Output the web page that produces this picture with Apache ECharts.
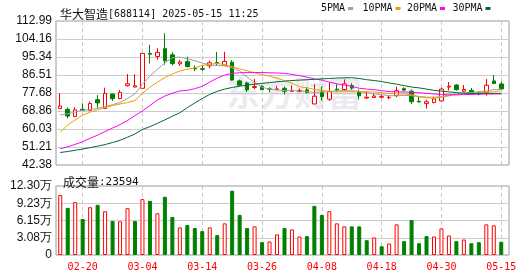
<!DOCTYPE html>
<html><head><meta charset="utf-8">
<script src="https://cdn.jsdelivr.net/npm/echarts@6/dist/echarts.min.js"></script>
<style>html,body{margin:0;padding:0;background:#fff}#c{width:530px;height:276px}</style>
</head><body><div id="c"></div>
<script>
const categories = ['02-17','02-18','02-19','02-20','02-21','02-24','02-25','02-26','02-27','02-28',
'03-03','03-04','03-05','03-06','03-07','03-10','03-11','03-12','03-13','03-14','03-17','03-18','03-19','03-20','03-21','03-24','03-25','03-26','03-27','03-28','03-31',
'04-01','04-02','04-03','04-07','04-08','04-09','04-10','04-11','04-14','04-15','04-16','04-17','04-18','04-21','04-22','04-23','04-24','04-25','04-28','04-29','04-30',
'05-06','05-07','05-08','05-09','05-12','05-13','05-14','05-15'];
const xTickLabels = ['02-20','03-04','03-14','03-26','04-08','04-18','04-30','05-15'];
const priceTicks = ['42.38','51.21','60.03','68.86','77.68','86.51','95.34','104.16','112.99'];
const volTicks = ['0','3.08万','6.15万','9.23万','12.30万'];

const openP  = [70.1,69.7,66.2,69.7,69.2,74.4,70.1,77.2,75.0,81.3,80.6,80.0,97.1,95.6,99.4,96.4,92.0,93.1,89.8,89.6,91.0,92.6,91.3,92.8,83.6,82.6,80.4,80.9,79.7,79.3,80.0,78.5,78.4,79.2,72.3,78.2,74.6,79.5,79.4,81.3,78.4,75.2,75.5,75.6,75.4,76.4,79.8,78.6,73.6,72.5,73.0,73.8,80.6,81.6,78.6,79.0,77.6,78.1,83.6,82.1];
const closeP = [71.3,66.4,69.4,69.2,72.5,72.8,77.5,74.9,78.0,82.2,81.2,97.1,96.7,97.6,93.5,92.1,92.9,90.6,89.5,89.3,92.5,92.1,93.2,84.0,81.5,79.2,80.9,79.3,79.5,79.7,78.5,78.8,78.9,77.9,76.1,75.9,78.3,79.2,82.2,80.1,76.3,75.6,76.2,76.0,75.6,78.8,79.1,73.4,73.3,73.4,74.8,79.6,81.0,79.3,79.4,77.3,77.3,81.5,82.3,79.7];
const lowP   = [70.0,65.3,65.8,69.0,68.9,70.3,69.8,73.8,74.6,80.9,80.4,79.9,92.2,94.0,91.5,91.3,91.0,90.3,88.4,88.6,89.8,91.0,90.9,83.7,81.2,78.2,79.6,79.1,78.0,79.0,77.0,78.3,77.9,77.5,72.2,74.0,73.8,78.3,78.7,79.3,74.5,75.0,75.4,75.1,74.6,75.6,78.4,72.3,73.1,70.0,72.6,73.5,78.9,78.9,78.1,77.0,76.5,76.3,82.2,79.2];
const highP  = [77.6,70.6,70.7,72.6,73.5,76.6,80.3,77.3,79.1,87.0,86.9,97.2,101.3,99.6,106.9,97.7,93.9,95.5,91.2,91.0,93.5,97.8,97.9,93.8,84.2,83.2,84.6,81.5,80.5,81.2,80.9,81.5,79.9,80.6,82.0,80.8,82.9,82.0,84.3,82.5,79.4,78.4,77.6,76.9,76.2,80.8,80.5,79.4,76.2,74.4,75.9,80.3,83.1,82.0,81.6,80.2,78.5,84.5,86.5,83.3];

const ma5  = [66.9,67.5,68.3,69.3,69.5,70.2,71.0,72.0,73.0,75.0,77.3,82.0,86.0,89.3,92.5,95.0,95.3,94.5,93.5,92.4,91.4,91.2,91.0,90.0,88.5,85.5,82.8,80.5,79.6,79.2,78.9,79.0,78.6,78.3,78.0,78.2,78.5,78.8,78.8,78.7,78.5,77.8,77.3,76.8,76.4,76.3,76.5,76.4,75.8,75.4,75.1,75.6,76.3,77.3,77.8,78.0,78.3,78.6,79.4,79.5];
const ma10 = [58.5,62.0,64.5,66.9,68.3,69.5,70.5,71.5,72.3,73.0,74.0,77.5,80.5,83.0,85.3,87.0,88.5,89.3,90.0,91.2,91.8,92.2,91.5,90.6,89.5,88.6,87.6,86.7,85.9,85.0,83.8,82.5,80.8,80.2,79.5,79.0,78.4,78.2,78.3,78.3,78.3,78.3,78.2,77.8,77.4,77.3,77.2,76.8,76.0,75.7,75.6,76.0,76.7,76.9,77.2,77.5,77.7,78.0,78.3,78.8];
const ma20 = [50.3,51.3,52.5,53.8,55.5,57.0,58.8,60.5,62.2,64.2,66.6,68.9,71.5,74.3,76.2,77.6,78.7,79.0,79.8,81.0,83.0,85.0,86.5,87.3,87.6,87.7,87.7,87.7,87.6,87.5,87.3,86.8,86.2,85.5,84.6,84.0,83.0,82.2,81.6,81.0,80.0,79.6,79.3,78.8,78.4,78.2,78.2,78.0,77.8,77.5,77.2,77.0,76.8,76.8,76.9,77.0,77.1,77.2,77.2,77.3];
const ma30 = [48.5,49.0,49.6,50.2,50.9,51.6,52.4,53.4,54.5,56.0,57.6,59.8,61.2,62.8,64.5,66.3,68.0,70.5,72.8,75.0,77.0,78.5,79.6,80.4,81.0,81.5,82.0,82.4,82.8,83.2,83.5,83.8,84.0,84.2,84.4,84.6,84.8,85.0,85.1,85.2,84.8,84.2,83.8,83.3,82.6,82.0,81.3,80.6,80.2,79.6,79.0,78.6,78.2,77.9,77.6,77.5,77.5,77.5,77.5,77.5];

const volume = [106800,84000,94200,64200,85200,89400,78000,60600,60000,83400,60600,99600,96600,74400,103800,67800,49200,53400,48000,42600,49200,35400,56400,114600,71400,48000,51000,22800,24000,36600,48000,45600,33000,33600,87600,71400,78000,56400,51000,51000,51000,26400,31200,15600,20400,54600,24600,62400,21000,33600,33000,47400,34800,24600,27600,21000,22800,54600,52800,23594];
const volRise = [1,0,1,0,1,0,1,0,1,1, 0,1,0,1,0,0,1,0,0,0, 1,0,1,0,0,0,1,0,1,1, 0,1,1,0,0,0,1,1,1,0, 0,0,1,0,1,1,0,0,0,0, 1,1,1,0,1,0,0,1,1,0];

const UP = '#ff0000', DOWN = '#008000';
const maColors = ['#a0a0a0', '#f0a000', '#ff00ff', '#006b32'];
const monoFont = '"DejaVu Sans Mono", "Liberation Mono", monospace';
const cjkFont = '"Noto Sans CJK SC", sans-serif';
const showTick = (i, v) => xTickLabels.indexOf(v) >= 0;

const chart = echarts.init(document.getElementById('c'), null, {renderer: 'canvas'});

const dashed = {show: true, interval: showTick, alignWithLabel: true, lineStyle: {color: '#c8c8c8', type: [4, 3], width: 1}};
const hLines = {show: true, lineStyle: {color: '#cccccc', width: 1}};
const leftLabel = (arr) => ({
  show: true, margin: 4, fontSize: 12, color: '#111', fontFamily: '"Liberation Sans", Arial, sans-serif',
  formatter: (v) => arr[Math.round(v)] || ''
});

const legendNames = ['5PMA', '10PMA', '20PMA', '30PMA'];
const legendX = [321, 362.5, 407, 452.5];
const legendGraphics = [];
legendNames.forEach((n, k) => {
  legendGraphics.push({type: 'text', left: legendX[k], top: 3.5,
    style: {text: n, font: '10px ' + monoFont, fill: '#111'}});
  legendGraphics.push({type: 'rect', left: legendX[k] + n.length * 6 + 3, top: 7,
    shape: {width: 5, height: 3}, style: {fill: maColors[k]}});
});

const richNormal = {
  a: {fontFamily: cjkFont, fontSize: 12, fontWeight: 'normal', color: '#111', lineHeight: 14},
  b: {fontFamily: monoFont, fontSize: 10, fontWeight: 'normal', color: '#111', lineHeight: 14},
  c: {fontFamily: monoFont, fontSize: 11, fontWeight: 'normal', color: '#111', lineHeight: 14}
};

chart.setOption({
  animation: false,
  backgroundColor: '#ffffff',
  title: [
    {left: 55, top: 2, text: '{a|华大智造}{b|[688114] 2025-05-15 11:25}',
     textStyle: {fontWeight: 'normal', rich: richNormal}},
    {left: 58, top: 170, text: '{a|成交量}{c|:23594}',
     textStyle: {fontWeight: 'normal', rich: richNormal}}
  ],
  graphic: [
    {type: 'text', left: 226, top: 76, z: -10,
     style: {text: '东方财富', font: 'bold 34px ' + cjkFont, fill: 'rgba(200,200,212,0.38)'}},
    ...legendGraphics
  ],
  grid: [
    {left: 56, top: 21, width: 453, height: 144, show: true, borderColor: '#9a9a9a', borderWidth: 1, backgroundColor: 'transparent'},
    {left: 56, top: 186, width: 453, height: 69, show: true, borderColor: '#9a9a9a', borderWidth: 1, backgroundColor: 'transparent'},
    {left: 56.5, top: 21, width: 448.5, height: 144},
    {left: 56.5, top: 186, width: 448.5, height: 69}
  ],
  xAxis: [
    {gridIndex: 0, type: 'value', min: 0, max: 1, show: false},
    {gridIndex: 1, type: 'value', min: 0, max: 1, show: false},
    {gridIndex: 2, type: 'category', data: categories, boundaryGap: true,
     axisLine: {show: false}, axisTick: {show: false, alignWithLabel: true, interval: showTick},
     axisLabel: {show: false, interval: showTick}, splitLine: dashed},
    {gridIndex: 3, type: 'category', data: categories, boundaryGap: true,
     axisLine: {show: false}, axisTick: {show: false, alignWithLabel: true, interval: showTick},
     axisLabel: {show: true, interval: showTick, color: '#ff0000', fontFamily: monoFont, fontSize: 10, margin: 7},
     splitLine: dashed}
  ],
  yAxis: [
    {gridIndex: 0, type: 'value', min: 0, max: 8, interval: 1, axisLine: {show: false}, axisTick: {show: false},
     axisLabel: leftLabel(priceTicks), splitLine: hLines},
    {gridIndex: 1, type: 'value', min: 0, max: 4, interval: 1, axisLine: {show: false}, axisTick: {show: false},
     axisLabel: leftLabel(volTicks), splitLine: hLines},
    {gridIndex: 2, type: 'value', min: 42.38, max: 112.99, show: false, splitLine: {show: false}},
    {gridIndex: 3, type: 'value', min: 0, max: 123000, show: false, splitLine: {show: false}}
  ],
  series: [
    {type: 'candlestick', name: 'K', xAxisIndex: 2, yAxisIndex: 2, barWidth: 4,
     data: categories.map((_, i) => [openP[i], closeP[i], lowP[i], highP[i]]),
     itemStyle: {color: '#ffffff', color0: DOWN, borderColor: UP, borderColor0: DOWN, borderWidth: 1}},
    ...[ma5, ma10, ma20, ma30].map((arr, k) => ({
      type: 'line', name: legendNames[k], xAxisIndex: 2, yAxisIndex: 2, data: arr,
      symbol: 'none', showSymbol: false, smooth: false, z: 3,
      lineStyle: {color: maColors[k], width: 1}, itemStyle: {color: maColors[k]}
    })),
    {type: 'bar', name: 'VOL', xAxisIndex: 3, yAxisIndex: 3, barWidth: 4,
     data: volume.map((v, i) => ({value: v, itemStyle: volRise[i]
       ? {color: '#ffffff', borderColor: UP, borderWidth: 1}
       : {color: DOWN, borderColor: DOWN, borderWidth: 1}}))}
  ]
});
</script></body></html>
